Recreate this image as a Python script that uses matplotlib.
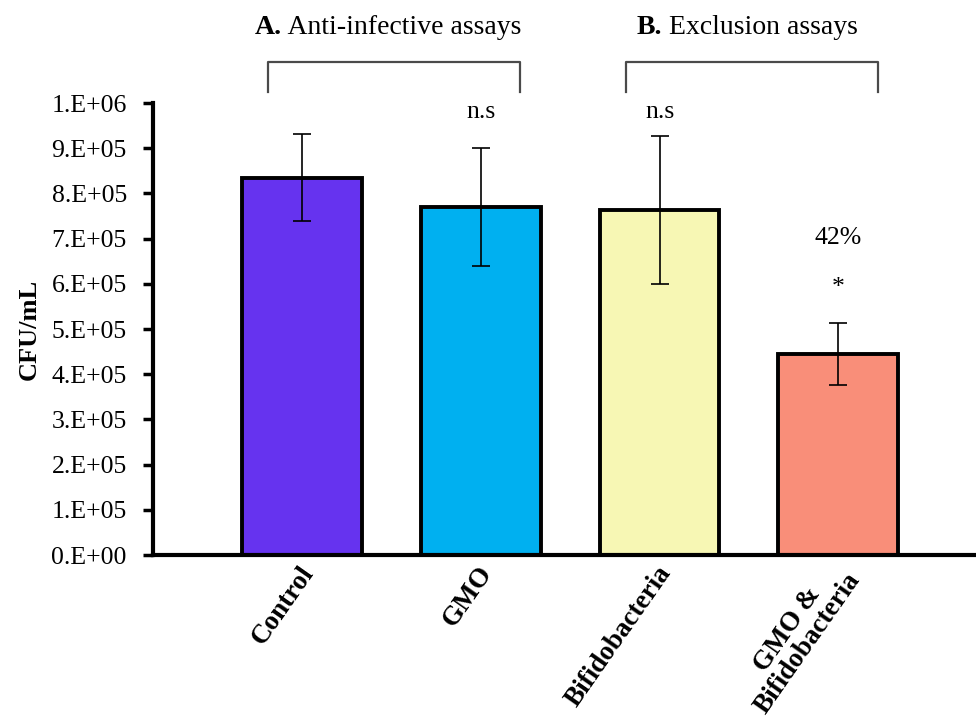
import numpy as np
import matplotlib
matplotlib.use("Agg")
import matplotlib.pyplot as plt

plt.rcParams['font.family'] = ['Liberation Serif', 'DejaVu Serif']

# CFU/mL counts per treatment with standard deviations
groups = ["Control", "GMO", "Bifidobacteria", "GMO &\nBifidobacteria"]
cfu = [8.35e5, 7.70e5, 7.63e5, 4.45e5]
sd = [0.97e5, 1.30e5, 1.63e5, 0.69e5]
colors = ["#6633ef", "#00b0f0", "#f7f7b4", "#f98e79"]
marks = ["", "n.s", "n.s", "*"]
reduction = "42%"
yticks = np.arange(0, 1.0e6 + 1, 1e5)
ytick_labels = ["0.E+00", "1.E+05", "2.E+05", "3.E+05", "4.E+05", "5.E+05",
                "6.E+05", "7.E+05", "8.E+05", "9.E+05", "1.E+06"]

fig = plt.figure(figsize=(9.76, 7.18), dpi=100)
ax = fig.add_axes([0.157, 0.227, 0.843, 0.6295])

x = np.arange(len(groups))
ax.bar(x, cfu, width=0.67, color=colors, edgecolor="black", linewidth=2.8,
       zorder=2)
ax.errorbar(x, cfu, yerr=sd, fmt="none", ecolor="black", elinewidth=1.2,
            capsize=6.5, capthick=1.2, zorder=3)

ax.set_xlim(-0.832, 3.77)
ax.set_ylim(0, 1.0e6)
ax.set_yticks(yticks)
ax.set_yticklabels(ytick_labels, fontsize=18.5)
ax.set_xticks(x)
ax.set_xticklabels([])
ax.tick_params(axis="x", length=0)
ax.tick_params(axis="y", direction="out", length=7, width=2.5, pad=12)
for side in ["top", "right"]:
    ax.spines[side].set_visible(False)
ax.spines["left"].set_linewidth(3)
ax.spines["bottom"].set_linewidth(3)
ax.set_ylabel("CFU/mL", fontsize=19, fontweight="bold", labelpad=8)

# rotated category names under the bars
for xi, g in zip(x, groups):
    ax.annotate(g, xy=(xi, 0), xycoords=("data", "axes fraction"),
                xytext=(5, -10), textcoords="offset points",
                rotation=55, rotation_mode="anchor", ha="right", va="center",
                fontsize=19.5, fontweight="bold", multialignment="center",
                linespacing=0.95, annotation_clip=False)

# significance marks above the bars
for i, m in enumerate(marks):
    if m == "n.s":
        ax.text(x[i], 0.98e6, m, ha="center", va="center", fontsize=18.5)
    elif m == "*":
        ax.text(x[i], 5.9e5, m, ha="center", va="center", fontsize=18.5)
        ax.text(x[i], 7.01e5, reduction, ha="center", va="center",
                fontsize=18.5)

# brackets grouping the two assay types
brackets = [(0, 1, -0.263, "A.", " Anti-infective assays"),
            (2, 3, -0.128, "B.", " Exclusion assays")]
for i0, i1, shift, bold, rest in brackets:
    xl, xr = x[i0] - 0.19, x[i1] + 0.22
    ax.plot([xl, xl, xr, xr], [1.024e6, 1.091e6, 1.091e6, 1.024e6],
            color="#4a4a4a", lw=1.6, clip_on=False)
    t = ax.text(x[i0] + shift, 1.152e6, bold, fontsize=20,
                fontweight="bold", ha="left", va="baseline")
    ax.annotate(rest, xy=(1, 0), xycoords=t, ha="left", va="bottom",
                fontsize=20)

fig.savefig("out.png", dpi=100)
